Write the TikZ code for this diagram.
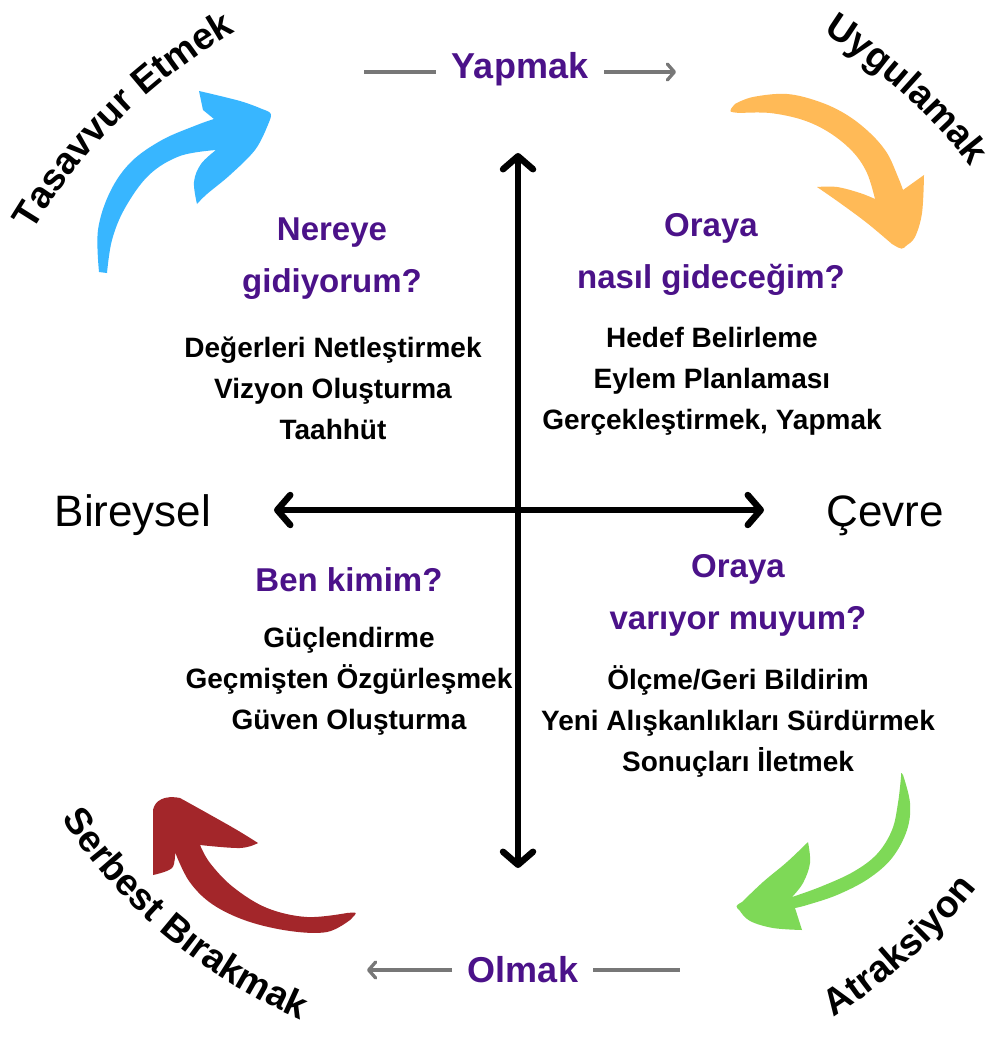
\documentclass[tikz,border=0pt]{standalone}
\usepackage{fontspec}
\setmainfont{Liberation Sans}
\usetikzlibrary{arrows.meta,decorations.text}
\definecolor{purp}{HTML}{4B1289}
\definecolor{cblue}{HTML}{38B6FF}
\definecolor{corange}{HTML}{FFBA57}
\definecolor{cred}{HTML}{A3262A}
\definecolor{cgreen}{HTML}{7ED957}
\definecolor{cgray}{HTML}{777777}
\begin{document}
\begin{tikzpicture}[x=1pt,y=-1pt,
  axis/.style={line width=6.5pt, line cap=round, {Straight Barb[length=13pt,width=30pt,round]}-{Straight Barb[length=13pt,width=30pt,round]}},
  gline/.style={line width=3.3pt, cgray},
  garrow/.style={line width=3.3pt, cgray, -{Straight Barb[length=7pt,width=16pt,round]}},
  head/.style={text=purp, font=\fontsize{33}{52}\selectfont\bfseries, align=center, inner sep=0pt},
  item/.style={text=black, font=\fontsize{28}{41}\selectfont\bfseries, align=center, inner sep=0pt},
  side/.style={text=black, font=\fontsize{44}{50}\selectfont, inner sep=0pt, anchor=base},
  flow/.style={text=purp, font=\fontsize{36}{40}\selectfont\bfseries, inner sep=0pt, anchor=base}
]
\useasboundingbox (0,0) rectangle (992,1043);
\fill[white] (0,0) rectangle (992,1043);

% axes
\coordinate (vt) at (518,153);
\coordinate (vb) at (518,868);
\coordinate (hl) at (274,510);
\coordinate (hr) at (764,510);
\draw[axis] (vb) -- (vt);
\draw[axis] (hl) -- (hr);

% side labels
\node[side] (bir) at (133,526) {Bireysel};
\node[side] (cev) at (885,526) {Çevre};

% flow labels
\node[flow] (yap) at (520,79) {Yapmak};
\coordinate (y1) at (364,72);
\coordinate (y2) at (436,72);
\coordinate (y3) at (604,72);
\coordinate (y4) at (676,72);
\draw[gline] (y1) -- (y2);
\draw[garrow] (y3) -- (y4);

\node[flow] (olm) at (523,982) {Olmak};
\coordinate (o1) at (452,970);
\coordinate (o2) at (367,970);
\coordinate (o3) at (593,970);
\coordinate (o4) at (680,970);
\draw[garrow] (o1) -- (o2);
\draw[gline] (o3) -- (o4);

% quadrant texts
\node[head] (q1h) at (332,259) {Nereye\\gidiyorum?};
\node[item] (q1i) at (333,388) {Değerleri Netleştirmek\\Vizyon Oluşturma\\Taahhüt};
\node[head] (q2h) at (711,254) {Oraya\\nasıl gideceğim?};
\node[item] (q2i) at (712,381) {Hedef Belirleme\\Eylem Planlaması\\Gerçekleştirmek, Yapmak};
\node[head] (q3h) at (349,580) {Ben kimim?};
\node[item] (q3i) at (349,681) {Güçlendirme\\Geçmişten Özgürleşmek\\Güven Oluşturma};
\node[head] (q4h) at (738,595) {Oraya\\varıyor muyum?};
\node[item] (q4i) at (738,721) {Ölçme/Geri Bildirim\\Yeni Alışkanlıkları Sürdürmek\\Sonuçları İletmek};

% curved arrows
\fill[cblue] plot[smooth,tension=0.6] coordinates {(99,272) (98,230) (110,192) (131,162) (162,140) (197,125) (214,119)}
  -- (203,110) -- (199,91)
  -- plot[smooth,tension=0.6] coordinates {(199,91) (240,101) (262,109)}
  .. controls (273,113) .. (267,127)
  -- plot[smooth,tension=0.6] coordinates {(267,127) (255,150) (230,175) (207,194) (197,204)}
  -- plot[smooth,tension=0.6] coordinates {(197,204) (194,182) (201,164) (216,150)}
  -- plot[smooth,tension=0.6] coordinates {(216,150) (180,156) (149,175) (125,208) (112,240) (107,273)}
  -- cycle;

\fill[corange] plot[smooth,tension=0.6] coordinates {(735,104) (753,97) (787,94) (820,102) (847,115) (870,133) (887,153) (898,177) (903,190)}
  -- (924,175)
  -- plot[smooth,tension=0.6] coordinates {(924,175) (922,213) (915,237) (907,245)}
  .. controls (902,250) .. (892,244)
  -- plot[smooth,tension=0.6] coordinates {(892,244) (867,223) (840,203) (817,187)}
  -- plot[smooth,tension=0.6] coordinates {(817,187) (837,187) (860,193) (875,199)}
  -- plot[smooth,tension=0.6] coordinates {(875,199) (867,173) (853,152) (830,133) (803,120) (770,113) (740,113)}
  .. controls (728,112) .. (735,104)
  -- cycle;

\fill[cred] plot[smooth,tension=0.6] coordinates {(180,798) (207,813) (237,830) (258,843)}
  -- plot[smooth,tension=0.6] coordinates {(258,843) (240,848) (200,845)}
  -- plot[smooth,tension=0.6] coordinates {(200,845) (210,863) (233,887) (267,908) (307,917) (347,913)}
  .. controls (358,912) .. (350,920)
  -- plot[smooth,tension=0.6] coordinates {(350,920) (327,932) (290,931) (247,921) (212,904) (189,881) (175,852)}
  -- plot[smooth,tension=0.6] coordinates {(175,852) (172,868) (153,875)}
  -- (153,810)
  .. controls (155,800) and (165,795) .. (180,798)
  -- cycle;

\fill[cgreen] plot[smooth,tension=0.6] coordinates {(903,775) (910,803) (907,830) (892,858) (868,879) (837,895) (807,905) (795,908)}
  -- (802,930)
  -- plot[smooth,tension=0.6] coordinates {(802,930) (773,928) (750,921) (740,911)}
  .. controls (735,906) .. (742,902)
  -- plot[smooth,tension=0.6] coordinates {(742,902) (763,882) (787,862) (808,842)}
  -- plot[smooth,tension=0.6] coordinates {(808,842) (810,863) (803,883) (792,897)}
  -- plot[smooth,tension=0.6] coordinates {(792,897) (820,887) (853,872) (877,854) (892,830) (898,803) (901,777)}
  .. controls (901,772) .. (903,775)
  -- cycle;

% curved texts
\path[decorate, decoration={text along path, text align=center,
  text={|\fontsize{37.5}{38}\selectfont\bfseries|Tasavvur Etmek}}]
  (516,520) ++(160:563pt) arc[start angle=160, end angle=109, radius=563pt];
\path[decorate, decoration={text along path, text align=center,
  text={|\fontsize{37.5}{38}\selectfont\bfseries|Uygulamak}}]
  (516,520) ++(72:576pt) arc[start angle=72, end angle=23.6, radius=576pt];
\path[decorate, decoration={text along path, text align=center,
  text={|\fontsize{37.5}{38}\selectfont\bfseries|Serbest Bırakmak}}]
  (516,520) ++(200:544pt) arc[start angle=200, end angle=260, radius=544pt];
\path[decorate, decoration={text along path, text align=center,
  text={|\fontsize{37.5}{38}\selectfont\bfseries|Atraksiyon}}]
  (516,520) ++(290:590pt) arc[start angle=290, end angle=334, radius=590pt];
\end{tikzpicture}
\end{document}
